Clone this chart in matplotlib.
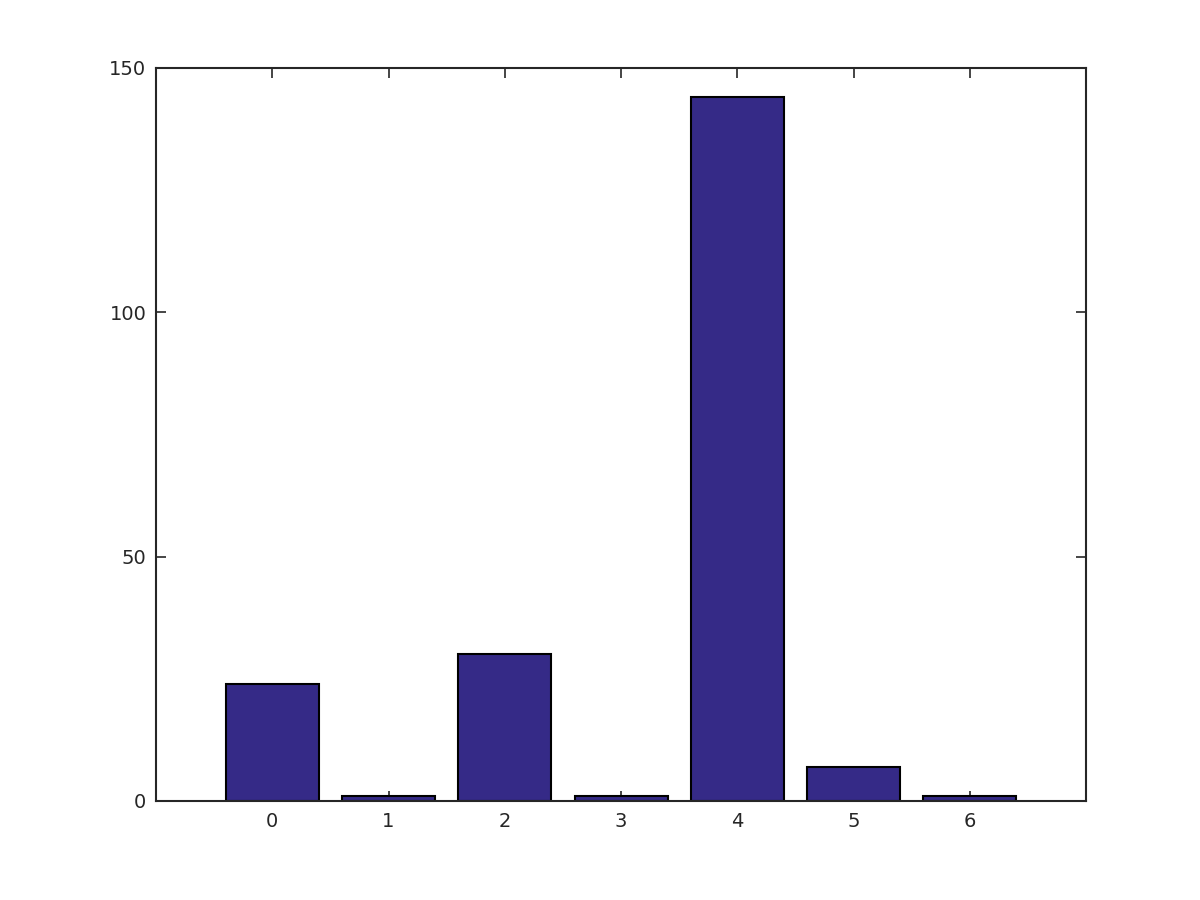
import matplotlib
matplotlib.use("Agg")
import matplotlib.pyplot as plt

plt.rcParams['font.family'] = ['DejaVu Sans']

categories = [0, 1, 2, 3, 4, 5, 6]
values = [24, 1, 30, 1, 144, 7, 1]

fig = plt.figure(figsize=(12, 9), dpi=100)
ax = fig.add_axes([0.13, 0.11, 0.775, 0.815])
ax.bar(categories, values, width=0.8, color="#352a87", edgecolor="black", linewidth=1.5, zorder=2)
ax.set_xlim(-1, 7)
ax.set_ylim(0, 150)
ax.set_xticks(categories)
ax.set_yticks([0, 50, 100, 150])
ax.tick_params(direction="in", length=7, width=1.2, top=True, right=True,
               labelsize=14, colors="#262626")
ax.tick_params(axis="x", pad=8)
ax.tick_params(axis="y", pad=7)
for s in ax.spines.values():
    s.set_linewidth(1.5)
    s.set_color("#262626")
    s.set_zorder(3)
fig.savefig("out.png", dpi=100)
